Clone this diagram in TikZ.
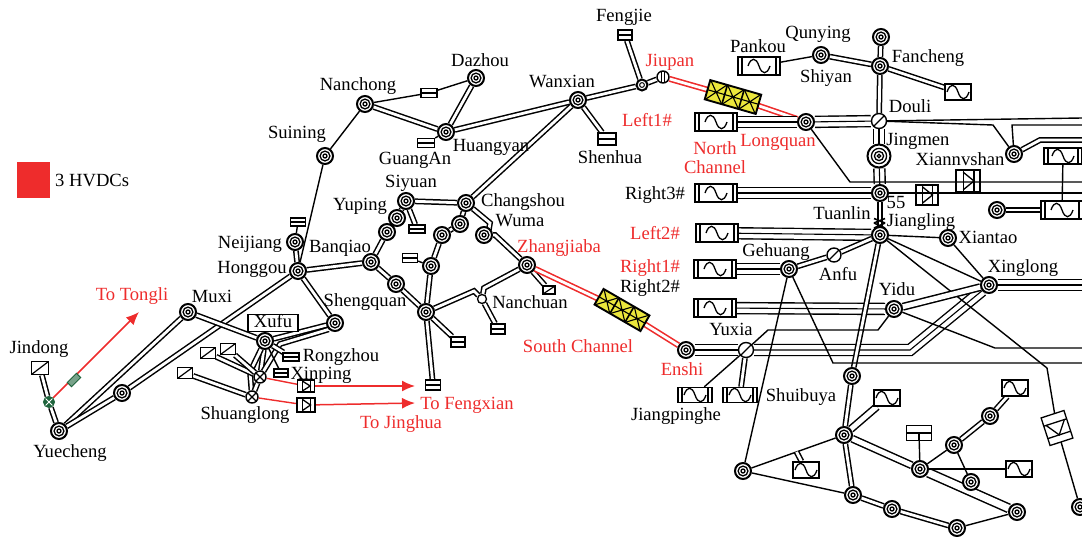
\documentclass[tikz,border=0pt]{standalone}
\usepackage{fontspec}
\setmainfont{Liberation Serif}
\usetikzlibrary{calc,arrows.meta}
\pgfdeclarelayer{bg}
\pgfsetlayers{bg,main}
\definecolor{rd}{RGB}{238,44,44}
\definecolor{gn}{RGB}{30,100,60}
\definecolor{yl}{RGB}{235,230,60}
\tikzset{
  stn/.style={circle,draw,line width=2pt,fill=white,minimum size=16pt,inner sep=0pt,
    path picture={\draw[line width=1.3pt] (path picture bounding box.center) circle (4.9) (path picture bounding box.center) circle (2);}},
  stnb/.style={stn,minimum size=23pt,
    path picture={\draw[line width=1.3pt] (path picture bounding box.center) circle (7.6) (path picture bounding box.center) circle (4.6) (path picture bounding box.center) circle (1.8);}},
  stns/.style={stn,minimum size=11pt,
    path picture={\draw[line width=1pt] (path picture bounding box.center) circle (2.4);}},
  jn/.style={circle,draw,line width=1.4pt,fill=white,minimum size=15pt,inner sep=0pt},
  jnd/.style={jn,path picture={\draw[line width=1.3pt] (path picture bounding box.south west)--(path picture bounding box.north east);}},
  jnx/.style={jn,minimum size=12pt,path picture={\draw[line width=1.1pt] (path picture bounding box.south west)--(path picture bounding box.north east) (path picture bounding box.north west)--(path picture bounding box.south east);}},
  jnv/.style={jn,minimum size=12pt,path picture={\draw[line width=1.1pt] (path picture bounding box.center)++(-1.3,-6)--++(0,12) (path picture bounding box.center)++(1.3,-6)--++(0,12);}},
  sgl/.style={line width=1.4pt,line join=miter},
  dbl/.style={draw,double=white,line width=1.5pt,double distance=2.8pt,line join=miter},
  dblw/.style={dbl,double distance=5pt},
  dblx/.style={dbl,double distance=7pt},
  tri/.style={line width=1.1pt,line join=miter,preaction={draw,black,line width=12.4pt},preaction={draw,white,line width=9.6pt}},
  reddbl/.style={draw=rd,double=white,line width=1.6pt,double distance=2.8pt},
  redln/.style={draw=rd,line width=1.4pt},
  redarr/.style={draw=rd,line width=1.5pt,-{Latex[length=13pt,width=11pt]}},
  lbl/.style={inner sep=0pt,yshift=-2pt,text height=11.5pt,text depth=3.5pt,font=\fontsize{18.6}{19}\selectfont},
  rlbl/.style={lbl,text=rd},
  gen/.style={draw,line width=1.4pt,fill=white,minimum width=42pt,minimum height=18pt,inner sep=0pt,
    path picture={\draw[line width=1.3pt] (path picture bounding box.center)++(-11,0) .. controls +(3,-9) and +(-3,-9) .. ++(11,0) .. controls +(3,9) and +(-3,9) .. ++(11,0);
      \draw[line width=1.3pt] ([xshift=4pt]path picture bounding box.south west)--([xshift=4pt]path picture bounding box.north west) ([xshift=-4pt]path picture bounding box.south east)--([xshift=-4pt]path picture bounding box.north east);}},
  gens/.style={gen,minimum width=34pt,minimum height=15pt},
  gena/.style={draw,line width=1.4pt,fill=white,minimum width=26pt,minimum height=16pt,inner sep=0pt,
    path picture={\draw[line width=1.3pt] (path picture bounding box.center)++(-11,0) .. controls +(3,-9) and +(-3,-9) .. ++(11,0) .. controls +(3,9) and +(-3,9) .. ++(11,0);}},
  trh/.style={draw,line width=1.3pt,fill=white,inner sep=0pt,minimum width=15pt,minimum height=9pt,
    path picture={\draw[line width=1.2pt] (path picture bounding box.west)--(path picture bounding box.east);}},
  trd/.style={draw,line width=1.3pt,fill=white,inner sep=0pt,minimum width=15pt,minimum height=11pt,
    path picture={\draw[line width=1.2pt] (path picture bounding box.south west)--(path picture bounding box.north east);}},
}
% converter: name x y w h angle
\newcommand\conv[6]{%
  \node[inner sep=0pt,minimum width=#4pt,minimum height=#5pt,rotate=#6] (#1) at (#2,#3) {};
  \begin{scope}[shift={(#2,#3)},rotate=#6,line width=1.3pt]
    \draw (-#4/2,-#5/2) rectangle (#4/2,#5/2);
    \draw (-#4*0.2,-#5/2)--(-#4*0.2,#5/2) (#4*0.25,-#5/2)--(#4*0.25,#5/2);
    \draw (-#4*0.2,-#5*0.4)--(#4*0.25,0)--(-#4*0.2,#5*0.4);
  \end{scope}}
% yellow HVDC box: name x y length height angle
\newcommand\hvdc[6]{%
  \node[inner sep=0pt,minimum width=#4pt,minimum height=#5pt,rotate=#6] (#1) at (#2,#3) {};
  \begin{scope}[shift={(#2,#3)},rotate=#6]
    \draw[fill=yl,line width=1.9pt] (-#4/2,-#5/2) rectangle (#4/2,#5/2);
    \foreach \c in {-17.5,0,17.5}{
      \draw[line width=1.1pt] (\c-8.5,-#5/2)--(\c+8.5,#5/2) (\c-8.5,#5/2)--(\c+8.5,-#5/2) (\c-8.5,0)--(\c+8.5,0);
    }
    \draw[line width=1.6pt] (-8.7,-#5/2)--(-8.7,#5/2) (8.7,-#5/2)--(8.7,#5/2);
  \end{scope}}
\begin{document}
\begin{tikzpicture}[x=1pt,y=-1pt]
\useasboundingbox (0,0) rectangle (1082,536);
% --- stations
\node[stn] (yuecheng) at (59,431) {};
\node[stn] (ya) at (122,393) {};
\node[stn] (muxi) at (188,312) {};
\node[stn] (honggou) at (298,271) {};
\node[stn] (neijiang) at (295,242) {};
\node[stn] (xufu) at (265,341) {};
\node[stn] (shq) at (335,323) {};
\node[stn] (suining) at (325,156) {};
\node[stn] (nanchong) at (365,104) {};
\node[stn] (dazhou) at (476,78) {};
\node[stn] (huangyan) at (446,132) {};
\node[stn] (wanxian) at (578,100) {};
\node[stn] (siyuan) at (406,201) {};
\node[stn] (changshou) at (466,203) {};
\node[stn] (yp1) at (397,218) {};
\node[stn] (yp2) at (387,232) {};
\node[stn] (banqiao) at (371,262) {};
\node[stn] (sq1) at (396,284) {};
\node[stn] (cen) at (426,312) {};
\node[stn] (sa) at (431,266) {};
\node[stn] (sb) at (442,235) {};
\node[stn] (sc) at (460,224) {};
\node[stn] (wuma) at (484,235) {};
\node[stn] (zhang) at (527,265) {};
\node[stn] (longquan) at (806,122) {};
\node[stn] (shiyan) at (821,55) {};
\node[stn] (top) at (881,37) {};
\node[stn] (fancheng) at (880,66) {};
\node[stn] (tuanlin) at (880,193) {};
\node[stn] (jiangling) at (880,235) {};
\node[stn] (xiantao) at (948,238) {};
\node[stn] (xiannv) at (1014,154) {};
\node[stn] (sr) at (997,210) {};
\node[stn] (gehuang) at (789,269) {};
\node[stn] (yidu) at (894,309) {};
\node[stn] (xinglong) at (989,285) {};
\node[stn] (enshi) at (686,350) {};
\node[stn] (ss) at (852,376) {};
\node[stn] (sd) at (844,435) {};
\node[stn] (se) at (743,471) {};
\node[stn] (sf) at (853,495) {};
\node[stn] (sg) at (892,509) {};
\node[stn] (sh) at (957,528) {};
\node[stn] (si) at (1017,512) {};
\node[stn] (sj) at (920,469) {};
\node[stn] (sk) at (971,482) {};
\node[stn] (sl) at (954,445) {};
\node[stn] (sm) at (990,416) {};
\node[stn] (sn) at (1080,507) {};
\node[stnb] (jingmen) at (879,156) {};
\node[stns] (wanj) at (642,85) {};
\node[jnv] (jiupan) at (663,77) {};
\node[jnd] (douli) at (879,121) {};
\node[jnd] (yuxia) at (746,350) {};
\node[jnd,minimum size=14pt] (anfu) at (834,255) {};
\node[jnx] (xinpj) at (260,377) {};
\node[jnx] (shuang) at (252,397) {};
\node[circle,draw,line width=1.3pt,fill=white,minimum size=9pt,inner sep=0pt] (nanj) at (482,299) {};
\node[circle,fill=gn,draw=gn,line width=1pt,minimum size=11pt,inner sep=0pt,
  path picture={\draw[white,line width=1pt] (path picture bounding box.south west)--(path picture bounding box.north east) (path picture bounding box.north west)--(path picture bounding box.south east);}] (gc) at (49,402) {};
% --- generators and boxes
\node[gen] (left1) at (716,122) {};
\node[gen] (right3) at (716,193) {};
\node[gen] (left2) at (717,233) {};
\node[gen] (right1) at (715,269) {};
\node[gen] (right2) at (715,308) {};
\node[gen] (pankou) at (759,66) {};
\node[gena] (gfan) at (958,92) {};
\node[gen,minimum width=38pt,minimum height=16pt] (gtr) at (1063,156) {};
\node[gen] (gmr) at (1062,210) {};
\node[gens] (gjp) at (695,395) {};
\node[gens] (gsb) at (740,395) {};
\node[gena] (g1) at (887,398) {};
\node[gena] (g2) at (1015,388) {};
\node[gena] (g3) at (1019,469) {};
\node[gena] (g4) at (806,470) {};
\node[trh,minimum width=18pt,minimum height=12pt] (tshen) at (607,139) {};
\node[trh,minimum width=16pt] (tna) at (429,93) {};
\node[trh,minimum width=17pt] (tga) at (426,143) {};
\node[trh,minimum width=16pt,minimum height=8pt] (tsi) at (417,229) {};
\node[trh] (tsa) at (410,258) {};
\node[trh,minimum height=8pt] (tnei) at (298,222) {};
\node[trh,minimum width=14pt,minimum height=10pt] (tc1) at (458,342) {};
\node[trh,minimum height=10pt] (tc2) at (433,385) {};
\node[trh,minimum width=14pt,minimum height=10pt] (tc3) at (498,329) {};
\node[trh,minimum width=14pt,minimum height=10pt] (tfeng) at (625,35) {};
\node[trh,minimum width=16pt,minimum height=8pt] (trz) at (291,357) {};
\node[trh,minimum width=14pt,minimum height=8pt] (txp) at (281,373) {};
\node[trd,minimum width=17pt,minimum height=13pt] (tjd) at (40,368) {};
\node[trd] (ta1) at (208,353) {};
\node[trd] (ta2) at (228,349) {};
\node[trd] (ta3) at (185,373) {};
\node[trd,minimum width=12pt,minimum height=8pt] (tz) at (549,290) {};
\node[draw,line width=1.3pt,fill=white,inner sep=0pt,minimum width=25pt,minimum height=15pt,
  path picture={\draw[line width=1.2pt] (path picture bounding box.west)--(path picture bounding box.east) (path picture bounding box.center)--(path picture bounding box.south);}] (tb) at (919,433) {};
\node[rotate=45,draw=gn,fill=gn!60!white,line width=1pt,minimum width=13pt,minimum height=6pt,inner sep=0pt] (gbx) at (74,380) {};
\conv{cv1}{968}{181}{24}{22}{0}
\conv{cv2}{927}{195}{22}{20}{0}
\conv{cv3}{1057}{428}{29}{24}{-72}
\conv{cr1}{306}{386}{17}{12}{0}
\conv{cr2}{306}{405}{18}{14}{0}
\hvdc{hn}{733}{97}{53}{20}{-16}
\hvdc{hs}{622}{310}{53}{18}{-30}
% free ends
\coordinate (tipT) at (139,312);
\coordinate (tipF) at (415,386);
\coordinate (tipJ) at (415,403);
\coordinate (e118) at (1082,118);
\coordinate (e125) at (1082,125);
\coordinate (e140) at (1082,140);
\coordinate (e182) at (1082,182);
\coordinate (e193) at (1082,193);
\coordinate (e285) at (1082,285);
\coordinate (e348) at (1082,348);
\coordinate (e363) at (1082,363);
\coordinate (gt) at ($(se)!0.53!(sd)$);
% --- connectors
\begin{pgfonlayer}{bg}
\draw[dbl] (yuecheng) -- (muxi);
\draw[dbl] (yuecheng) -- (ya);
\draw[dbl] (ya) -- (honggou);
\draw[dbl] (muxi) -- (xufu);
\draw[dbl] (neijiang) -- (honggou);
\draw[sgl] (neijiang) -- (tnei);
\draw[dbl] (honggou) -- (shq);
\draw[dbl] (honggou) -- (banqiao);
\draw[sgl] (suining) -- (honggou);
\draw[sgl] (suining) -- (nanchong);
\draw[dbl] (nanchong) -- (huangyan);
\draw[sgl] (nanchong) -- (tna);
\draw[sgl] (tna) -- (dazhou);
\draw[dbl] (dazhou) -- (huangyan);
\draw[sgl] (huangyan) -- (tga);
\draw[dbl] (huangyan) -- (wanxian);
\draw[dbl] (wanxian) -- (wanj);
\draw[dbl] (wanj) -- (jiupan);
\draw[dbl] (tfeng) -- (wanj);
\draw[dbl] (wanxian) -- (tshen);
\draw[dbl] (wanxian) -- (changshou);
\draw[dbl] (siyuan) -- (changshou);
\draw[dbl] (siyuan) -- (tsi);
\draw[dbl] (siyuan) -- (yp1);
\draw[dbl] (yp1) -- (yp2);
\draw[dbl] (yp2) -- (banqiao);
\draw[dbl] (banqiao) -- (sq1);
\draw[dbl] (sq1) -- (cen);
\draw[dbl] (cen) -- (sa);
\draw[dbl] (sa) -- (sb);
\draw[dbl] (sb) -- (sc);
\draw[dbl] (sc) -- (changshou);
\draw[sgl] (sa) -- (tsa);
\draw[dbl] (changshou) -- (490,223) -- (489,229) -- (wuma);
\draw[dbl] (wuma) -- (495,235) -- (zhang);
\draw[dbl] (zhang) -- (tz);
\draw[dbl] (cen) -- (474,291) -- (nanj);
\draw[dbl] (zhang) -- (484,288) -- (nanj);
\draw[dbl] (cen) -- (tc1);
\draw[dbl] (cen) -- (tc2);
\draw[dbl] (nanj) -- (tc3);
% Xufu area
\draw[dbl] (xufu) -- (shq);
\draw[dbl] (xufu) -- (xinpj);
\draw[dbl] (xufu) -- (250,372) -- (shuang);
\draw[dbl] (shq.225) -- (280,344) -- (xinpj);
\draw[dbl] (xinpj) -- (shuang);
\draw[dbl] (xufu) -- (trz);
\draw[sgl] (xufu) -- (txp);
\draw[dbl] (ta1) -- (xinpj);
\draw[dbl] (ta2) -- (xinpj);
\draw[dbl] (ta3) -- (shuang);
\draw[dbl] (tjd) -- (gc);
\draw[dbl] (gc) -- (yuecheng);
% HVDC lines
\draw[reddbl] (jiupan) -- (hn) -- (longquan);
\draw[reddbl] (zhang) -- (hs) -- (enshi);
\draw[redarr] (gc) -- (tipT);
\draw[redln] (xinpj) -- (cr1);
\draw[redarr] (cr1) -- (tipF);
\draw[redln] (shuang) -- (cr2);
\draw[redarr] (cr2) -- (tipJ);
% East
\draw[sgl] (pankou) -- (shiyan);
\draw[dbl] (shiyan) -- (fancheng);
\draw[dbl] (top) -- (fancheng);
\draw[dbl] (fancheng) -- (douli);
\draw[dbl] (fancheng) -- (gfan);
\draw[tri] (left1) -- (longquan);
\draw[tri] (longquan) -- (douli);
\draw[tri] (douli) -- (jingmen);
\draw[tri] (jingmen) -- (tuanlin);
\draw[tri] (right3) -- (tuanlin);
\draw[tri] (left2) -- (jiangling);
\draw[tri] (right1) -- (gehuang);
\draw[tri] (right2) -- (yidu);
\draw[tri] (enshi) -- (yuxia);
\draw[tri] (yuxia) -- (910,350) -- (xinglong);
\draw[tri] (xinglong) -- (e285);
\draw[dbl] (tuanlin) -- (jiangling);
\draw[sgl] (douli) -- (e118);
\draw[sgl] (douli) -- (993,125) -- (xiannv);
\draw[sgl] (xiannv) -- (1012,125) -- (e125);
\draw[dbl] (xiannv) -- (1040,140) -- (e140);
\draw[sgl] (longquan) -- (850,182) -- (e182);
\draw[sgl] (tuanlin) -- (e193);
\draw[dbl] (sr) -- (gmr);
\draw[sgl] (gtr) -- (gmr);
\draw[sgl] (jiangling) -- (xiantao);
\draw[sgl] (xiantao) -- (xinglong);
\draw[sgl] (jiangling) -- (xinglong);
\draw[sgl] (jiangling) -- (1047,368) -- (cv3);
\draw[sgl] (cv3) -- (sn);
\draw[dbl] (jiangling) -- (anfu);
\draw[dbl] (anfu) -- (gehuang);
\draw[dbl] (jiangling) -- (ss);
\draw[dbl] (ss) -- (sd);
\draw[dbl] (sd) -- (sf);
\draw[dbl] (sf) -- (sg);
\draw[dbl] (sg) -- (sh);
\draw[dblw] (sd) -- (sj);
\draw[dblx] (sj) -- (si);
\draw[sgl] (sh) -- (si);
\draw[sgl] (se) -- (sd);
\draw[sgl] (se) -- (sf);
\draw[sgl] (gehuang) -- (se);
\draw[sgl] (gehuang) -- (833,363) -- (e363);
\draw[dblw] (sd) -- (g1);
\draw[sgl] (tb) -- (sj);
\draw[sgl] (sj) -- (g3);
\draw[sgl] (sj) -- (sl);
\draw[dbl] (sl) -- (sm);
\draw[dbl] (sm) -- (g2);
\draw[sgl] (sl) -- (sk);
\draw[dbl] (gt) -- (g4);
\draw[dblw] (yidu) -- (xinglong);
\draw[sgl] (yidu) -- (995,348) -- (e348);
\draw[sgl] (yidu) -- (878,330) -- (768,330) -- (yuxia);
\draw[sgl] (yuxia) -- (gjp);
\draw[dbl] (yuxia) -- (gsb);
\end{pgfonlayer}
\draw[line width=1.6pt] (874,218.5)--(885,223) (885,218.5)--(874,223) (874,223)--(885,228) (885,223)--(874,228);
% --- legend
\node[fill=rd,minimum width=33pt,minimum height=36pt,inner sep=0pt] (legend) at (33.5,180) {};
\node[lbl,anchor=west] (legendtext) at (55,180) {3 HVDCs};
% --- labels
\node[draw,line width=1.3pt,fill=white,minimum width=50pt,minimum height=17pt,inner sep=0pt,lbl] (xufubox) at (273,321) {Xufu};
\node[lbl] (l1) at (624,15) {Fengjie};
\node[rlbl] (l2) at (670,60) {Jiupan};
\node[lbl] (l3) at (758,46) {Pankou};
\node[lbl] (l4) at (818,32) {Qunying};
\node[lbl] (l5) at (928,56) {Fancheng};
\node[lbl] (l6) at (826,76) {Shiyan};
\node[lbl] (l7) at (910,106) {Douli};
\node[rlbl] (l8) at (647,120) {Left1\#};
\node[rlbl] (l9) at (778,140) {Longquan};
\node[lbl] (l10) at (918,139) {Jingmen};
\node[lbl] (l11) at (960,159) {Xiannvshan};
\node[rlbl] (l12) at (715,148) {North};
\node[rlbl] (l13) at (715,167) {Channel};
\node[lbl] (l14) at (655,193) {Right3\#};
\node[lbl] (l15) at (896,202.5) {55};
\node[lbl] (l16) at (842,213) {Tuanlin};
\node[lbl] (l17) at (921,220) {Jiangling};
\node[lbl] (l18) at (988,237) {Xiantao};
\node[rlbl] (l19) at (655,233) {Left2\#};
\node[lbl] (l20) at (776,250) {Gehuang};
\node[lbl] (l21) at (838,274) {Anfu};
\node[lbl] (l22) at (1023,266) {Xinglong};
\node[rlbl] (l23) at (650,266) {Right1\#};
\node[lbl] (l24) at (650,286) {Right2\#};
\node[lbl] (l25) at (897,289) {Yidu};
\node[lbl] (l26) at (731,329) {Yuxia};
\node[rlbl] (l27) at (578,346) {South Channel};
\node[rlbl] (l28) at (682,369) {Enshi};
\node[lbl] (l29) at (676,414) {Jiangpinghe};
\node[lbl] (l30) at (801,395) {Shuibuya};
\node[rlbl] (l31) at (559,246) {Zhangjiaba};
\node[lbl] (l32) at (520,220) {Wuma};
\node[lbl] (l33) at (523,200) {Changshou};
\node[lbl] (l34) at (530,302) {Nanchuan};
\node[lbl] (l35) at (411,181) {Siyuan};
\node[lbl] (l36) at (360,204) {Yuping};
\node[lbl] (l37) at (415,158) {GuangAn};
\node[lbl] (l38) at (491,145) {Huangyan};
\node[lbl] (l39) at (610,157) {Shenhua};
\node[lbl] (l40) at (562,81) {Wanxian};
\node[lbl] (l41) at (358,84) {Nanchong};
\node[lbl] (l42) at (480,60) {Dazhou};
\node[lbl] (l43) at (297,132) {Suining};
\node[lbl] (l44) at (250,242) {Neijiang};
\node[lbl] (l45) at (340,246) {Banqiao};
\node[lbl] (l46) at (252,267) {Honggou};
\node[lbl] (l47) at (365,300) {Shengquan};
\node[lbl] (l48) at (212,296) {Muxi};
\node[rlbl] (l49) at (132,294) {To Tongli};
\node[lbl] (l50) at (39,347) {Jindong};
\node[lbl] (l51) at (70,451) {Yuecheng};
\node[lbl] (l52) at (341,355) {Rongzhou};
\node[lbl] (l53) at (321,373) {Xinping};
\node[lbl] (l54) at (245,413) {Shuanglong};
\node[rlbl] (l55) at (467,403) {To Fengxian};
\node[rlbl] (l56) at (401,422) {To Jinghua};
\end{tikzpicture}
\end{document}
